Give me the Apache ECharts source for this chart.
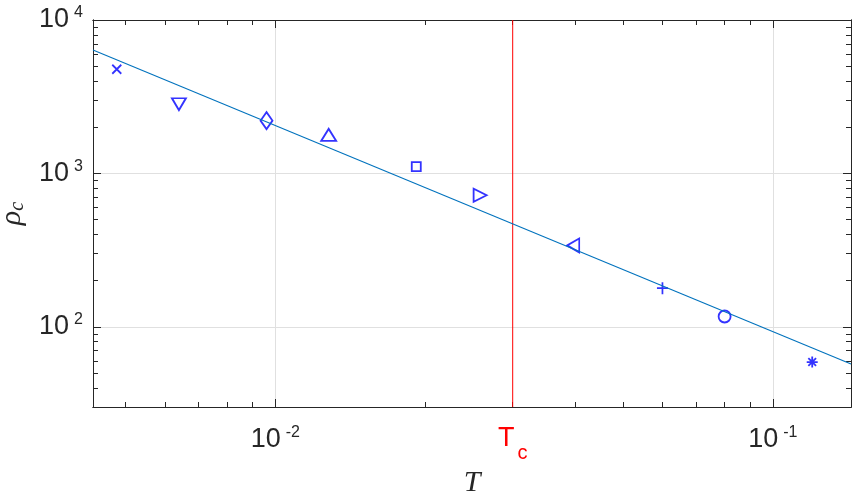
<!DOCTYPE html>
<html>
<head>
<meta charset="utf-8">
<script src="https://cdn.jsdelivr.net/npm/echarts@6/dist/echarts.min.js"></script>
<style>
  html, body { margin: 0; padding: 0; background: #fff; }
  #chart { width: 861px; height: 500px; }
</style>
</head>
<body>
<div id="chart"></div>
<script>
// points: temperature T and rho_c, one marker shape each
const temps = [0.0048, 0.0064, 0.0096, 0.0128, 0.0192, 0.0258, 0.0397, 0.060, 0.080, 0.120];
const rhoC = [4775, 2824, 2208, 1782, 1107, 721, 339, 178.6, 116.7, 58.9];
const markers = ['x', 'triangleDown', 'diamond', 'triangleUp', 'square',
                 'triangleRight', 'triangleLeft', 'plus', 'circle', 'star'];

// power-law fit, ends at the axis limits
const fitT = [0.0043, 0.1436];
const fitRho = [6380, 57.2];

const Tc = 0.03;

const xRange = [0.0043, 0.1436];
const yRange = [30, 10000];
const xMajor = [0.01, 0.1];
const xMinor = [0.005, 0.006, 0.007, 0.008, 0.009,
                0.02, 0.03, 0.04, 0.05, 0.06, 0.07, 0.08, 0.09];
const yMajor = [100, 1000, 10000];
const yMinor = [30, 40, 50, 60, 70, 80, 90,
                200, 300, 400, 500, 600, 700, 800, 900,
                2000, 3000, 4000, 5000, 6000, 7000, 8000, 9000];

const AXIS = '#262626';
const GRID = '#e0e0e0';
const BLUE = '#0000ff';

// marker look (MATLAB style)
const shapes = {
  x:             { symbol: 'path://M0,0L10,10M10,0L0,10', size: [9, 9] },
  triangleDown:  { symbol: 'triangle', size: [14, 12], rotate: 180 },
  diamond:       { symbol: 'diamond', size: [12, 17] },
  triangleUp:    { symbol: 'triangle', size: [15, 12] },
  square:        { symbol: 'rect', size: [9, 9] },
  triangleRight: { symbol: 'triangle', size: [13, 13], rotate: -90 },
  triangleLeft:  { symbol: 'triangle', size: [14, 12], rotate: 90 },
  plus:          { symbol: 'path://M5,0L5,10M0,5L10,5', size: [11, 12] },
  circle:        { symbol: 'circle', size: [12, 12] },
  star:          { symbol: 'path://M0,5L10,5M5,0L5,10M1.5,1.5L8.5,8.5M8.5,1.5L1.5,8.5', size: [11, 11] }
};

const pointData = temps.map(function (t, i) {
  const s = shapes[markers[i]];
  return {
    value: [t, rhoC[i]],
    symbol: s.symbol,
    symbolSize: s.size,
    symbolRotate: s.rotate || 0
  };
});

const fitData = fitT.map(function (t, i) { return [t, fitRho[i]]; });
const tcLine = [[Tc, yRange[0]], [Tc, yRange[1]]];

const labelRich = {
  b: { fontFamily: 'Liberation Sans', fontSize: 27, lineHeight: 30, color: AXIS },
  s: { fontFamily: 'Liberation Sans', fontSize: 16, lineHeight: 18, color: AXIS,
       verticalAlign: 'top', padding: [0, 0, 0, 5] },
  t: { fontFamily: 'Liberation Sans', fontSize: 27, lineHeight: 30, color: '#ff0000',
       verticalAlign: 'top' },
  c: { fontFamily: 'Liberation Sans', fontSize: 20, lineHeight: 22, color: '#ff0000',
       padding: [26, 0, 0, 3] }
};

function powLabel(v) {
  if (Math.abs(v - Tc) < 1e-9) return '{t|T}{c|c}';
  return '{b|10}{s|' + Math.round(Math.log10(v)) + '}';
}

// extra axes only for ticks (box on, ticks inside)
function tickAxis(pos, range, values, len) {
  return {
    type: 'log', position: pos, min: range[0], max: range[1],
    axisLine: { show: true, onZero: false, lineStyle: { color: AXIS, width: 1 } },
    axisTick: { show: true, inside: true, length: len, customValues: values,
                lineStyle: { color: AXIS, width: 1 } },
    axisLabel: { show: false },
    splitLine: { show: false }
  };
}

const chart = echarts.init(document.getElementById('chart'));
chart.setOption({
  backgroundColor: '#fff',
  animation: false,
  grid: { left: 93, right: 10, top: 20, bottom: 93, outerBoundsMode: 'none', containLabel: false },
  xAxis: [
    {
      type: 'log', position: 'bottom', min: xRange[0], max: xRange[1],
      name: 'T', nameLocation: 'middle', nameGap: 54,
      nameTextStyle: { fontFamily: 'Liberation Serif', fontStyle: 'italic', fontSize: 30, color: AXIS },
      axisLine: { show: true, onZero: false, lineStyle: { color: AXIS, width: 1 } },
      axisTick: { show: true, inside: true, length: 8, customValues: xMajor,
                  lineStyle: { color: AXIS, width: 1 } },
      axisLabel: { customValues: [xMajor[0], Tc, xMajor[1]], margin: 18,
                   formatter: powLabel, rich: labelRich },
      splitLine: { show: true, lineStyle: { color: GRID, width: 1 } }
    },
    tickAxis('bottom', xRange, xMinor, 5),
    tickAxis('top', xRange, xMajor, 8),
    tickAxis('top', xRange, xMinor, 5)
  ],
  yAxis: [
    {
      type: 'log', position: 'left', min: yRange[0], max: yRange[1],
      name: '{r|ρ}{c|c}', nameLocation: 'middle', nameGap: 54,
      nameTextStyle: {
        rich: {
          r: { fontFamily: 'Liberation Serif', fontStyle: 'italic', fontSize: 30, color: AXIS },
          c: { fontFamily: 'Liberation Serif', fontStyle: 'italic', fontSize: 20, color: AXIS,
               padding: [12, 0, 0, 0] }
        }
      },
      axisLine: { show: true, onZero: false, lineStyle: { color: AXIS, width: 1 } },
      axisTick: { show: true, inside: true, length: 8, customValues: yMajor,
                  lineStyle: { color: AXIS, width: 1 } },
      axisLabel: { customValues: yMajor, margin: 10, formatter: powLabel, rich: labelRich },
      splitLine: { show: true, lineStyle: { color: GRID, width: 1 } }
    },
    tickAxis('left', yRange, yMinor, 5),
    tickAxis('right', yRange, yMajor, 8),
    tickAxis('right', yRange, yMinor, 5)
  ],
  series: [
    {
      type: 'line',
      data: tcLine,
      symbol: 'none',
      lineStyle: { color: '#ff0000', width: 1 },
      z: 2
    },
    {
      type: 'scatter',
      data: pointData,
      itemStyle: { color: 'transparent', borderColor: BLUE, borderWidth: 1.8 },
      z: 3
    },
    {
      type: 'line',
      data: fitData,
      symbol: 'none',
      lineStyle: { color: '#0072bd', width: 1.1 },
      z: 4
    }
  ]
});
</script>
</body>
</html>
